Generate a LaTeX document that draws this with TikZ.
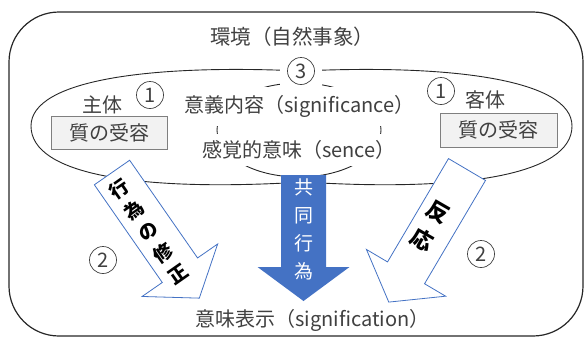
\documentclass[tikz,border=0pt]{standalone}
\usepackage{fontspec}
\setmainfont{Noto Sans CJK JP}
\pgfdeclarelayer{background}
\pgfsetlayers{background,main}
\definecolor{ink}{HTML}{262626}
\definecolor{txtgray}{HTML}{404040}
\definecolor{offblue}{HTML}{4472C4}
\definecolor{boxfill}{HTML}{F2F2F2}
\definecolor{boxline}{HTML}{7F7F7F}
\begin{document}
\begin{tikzpicture}[x=1pt,y=-1pt,
  lbl/.style={text=txtgray,font=\fontsize{20}{24}\selectfont,inner sep=0pt},
  masked/.style={lbl,fill=white,inner xsep=1pt},
  cnum/.style={lbl,circle,draw=txtgray,line width=0.7pt,minimum size=27pt},
  qbox/.style={lbl,draw=boxline,fill=boxfill,line width=0.8pt,minimum width=116pt,minimum height=33pt},
  sidearrow/.style={draw=offblue,fill=white,line width=0.8pt,line join=miter},
  ringline/.style={draw=ink,line width=0.9pt},
  arrtxt/.style={text=black,inner sep=0pt,align=center}
]
\useasboundingbox (0,0) rectangle (585,338);
\draw[ink,line width=1.2pt,rounded corners=50pt] (9,12) rectangle (583,336);

% labels
\node[lbl,anchor=west,font=\fontsize{20.5}{24}\selectfont] (env) at (210,37) {環境（自然事象）};
\node[fill=white,minimum width=42pt,minimum height=31pt,inner sep=0pt,
  path picture={\draw[txtgray,line width=0.7pt] (path picture bounding box.center) circle (13.5pt);},
  text=txtgray,font=\fontsize{20}{20}\selectfont] (c3) at (301,71) {3};
\node[lbl] (subj) at (102,105) {主体};
\node[cnum] (c1l) at (150,95) {1};
\node[qbox] (qL) at (109,133) {質の受容};
\node[masked,anchor=west,minimum height=39pt] (sig) at (183,106) {意義内容（significance）};
\node[masked,anchor=west,minimum height=32pt] (sen) at (201,150) {感覚的意味（sence）};
\node[cnum] (c1r) at (441,91) {1};
\node[lbl] (obj) at (485,100) {客体};
\node[qbox,minimum height=34pt,minimum width=117pt] (qR) at (498.5,130) {質の受容};
\node[cnum] (c2l) at (103,260) {2};
\node[cnum] (c2r) at (481,254) {2};
\node[lbl,anchor=west] (sigf) at (195,320) {意味表示（signification）};

\coordinate (btop) at (303.5,182);

% loops
\begin{pgfonlayer}{background}
\draw[ringline] (c3.center) .. controls (150,64) and (31,80) .. (31,126) .. controls (31,175) and (140,192) .. (btop);
\draw[ringline] (c3.center) .. controls (453,64) and (572,80) .. (572,126) .. controls (572,175) and (463,192) .. (btop);
\draw[ringline] (299,130) ellipse [x radius=82pt, y radius=47pt];
\end{pgfonlayer}

% arrows
\path[sidearrow] (94.35,184.77) -- (129.65,160.23) -- (197.56,257.94) -- (217.68,243.96) -- (199.31,298.13) -- (142.14,296.46) -- (162.26,282.48) -- cycle;
\path[sidearrow] (448.49,158.58) -- (485.51,180.42) -- (424.55,283.74) -- (445.65,296.19) -- (388.77,302.09) -- (366.43,249.45) -- (387.53,261.90) -- cycle;
\fill[offblue] (281,175) -- (326,175) -- (326,267) -- (349.5,267) -- (303.5,301) -- (257.5,267) -- (281,267) -- cycle;

\node[arrtxt,rotate=35,font=\fontsize{19}{26}\selectfont\bfseries] (tL) at (148.4,231.3) {行\\為\\の\\修\\正};
\node[arrtxt,rotate=-30,font=\fontsize{22}{32}\selectfont\bfseries] (tR) at (430,226) {反\\応};
\node[arrtxt,text=white,font=\fontsize{19}{28}\selectfont] (tC) at (303.5,229) {共\\同\\行\\為};
\end{tikzpicture}
\end{document}
